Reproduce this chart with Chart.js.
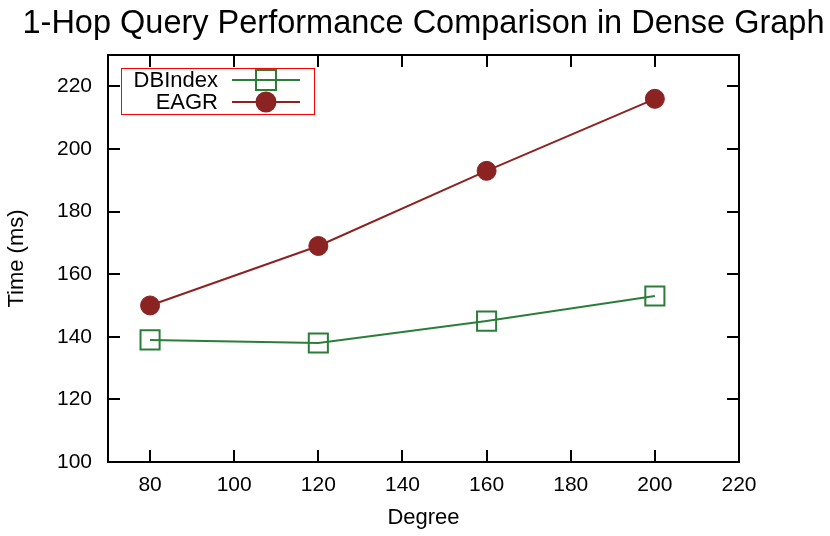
<!DOCTYPE html>
<html><head><meta charset="utf-8">
<script src="https://cdn.jsdelivr.net/npm/chart.js@4/dist/chart.umd.min.js"></script>
<style>html,body{margin:0;padding:0;background:#fff}#wrap{width:830px;height:536px;position:relative}</style>
</head><body><div id="wrap"><canvas id="c" width="830" height="536"></canvas></div>
<script>
const degrees = [80, 120, 160, 200];
const dbindexTimes = [139, 138, 145, 153];
const eagrTimes = [150, 169, 193, 216];
const xTickValues = [80, 100, 120, 140, 160, 180, 200, 220];
const yTickValues = [100, 120, 140, 160, 180, 200, 220];
const seriesNames = ['DBIndex', 'EAGR'];
const titleText = '1-Hop Query Performance Comparison in Dense Graph';
const xTitleText = 'Degree';
const yTitleText = 'Time (ms)';

const GREEN = '#2a7e38';
const RED = '#8b2323';
const FONT = '"Liberation Sans", Arial, Helvetica, sans-serif';

const framePlugin = {
  id: 'frame',
  beforeDatasetsDraw(chart) {
    const {ctx, chartArea: a, scales} = chart;
    ctx.save();
    ctx.strokeStyle = '#000';
    ctx.lineWidth = 2;
    const tl = 12;
    ctx.beginPath();
    scales.x.ticks.forEach(t => {
      const px = Math.round(scales.x.getPixelForValue(t.value));
      if (px > a.left + 1 && px < a.right - 1) {
        ctx.moveTo(px, a.bottom); ctx.lineTo(px, a.bottom - tl);
        ctx.moveTo(px, a.top); ctx.lineTo(px, a.top + tl);
      }
    });
    scales.y.ticks.forEach(t => {
      const py = Math.round(scales.y.getPixelForValue(t.value));
      if (py > a.top + 1 && py < a.bottom - 1) {
        ctx.moveTo(a.left, py); ctx.lineTo(a.left + tl, py);
        ctx.moveTo(a.right, py); ctx.lineTo(a.right - tl, py);
      }
    });
    ctx.stroke();
    ctx.strokeRect(a.left, a.top, a.right - a.left, a.bottom - a.top);
    ctx.restore();
  },
  afterDraw(chart) {
    const {ctx, chartArea: a} = chart;
    ctx.save();
    // title
    ctx.fillStyle = '#000';
    ctx.font = '32.5px ' + FONT;
    ctx.textAlign = 'center';
    ctx.textBaseline = 'alphabetic';
    ctx.fillText(titleText, (a.left + a.right) / 2, 33);
    // legend
    ctx.strokeStyle = '#ff0000';
    ctx.lineWidth = 1;
    ctx.strokeRect(121.5, 68.5, 193, 46);
    ctx.font = '22px ' + FONT;
    ctx.textAlign = 'right';
    ctx.textBaseline = 'middle';
    const rows = [80, 102];
    chart.data.datasets.forEach((ds, i) => {
      const y = rows[i];
      ctx.fillStyle = '#000';
      ctx.fillText(ds.label, 218, y + 1);
      ctx.strokeStyle = ds.borderColor;
      ctx.lineWidth = 2;
      ctx.beginPath(); ctx.moveTo(232, y); ctx.lineTo(300, y); ctx.stroke();
      if (ds.pointStyle === 'rect') {
        ctx.strokeRect(256, y - 10, 20, 20);
      } else {
        ctx.fillStyle = ds.pointBackgroundColor;
        ctx.beginPath(); ctx.arc(266, y, 10.5, 0, Math.PI * 2); ctx.fill();
      }
    });
    ctx.restore();
  }
};

new Chart(document.getElementById('c'), {
  type: 'line',
  data: {
    datasets: [
      {
        label: seriesNames[0],
        data: degrees.map((d, i) => ({x: d, y: dbindexTimes[i]})),
        borderColor: GREEN, borderWidth: 2,
        pointStyle: 'rect', pointRadius: 13.5, pointBorderWidth: 2,
        pointBorderColor: GREEN, pointBackgroundColor: 'rgba(0,0,0,0)',
        tension: 0, fill: false
      },
      {
        label: seriesNames[1],
        data: degrees.map((d, i) => ({x: d, y: eagrTimes[i]})),
        borderColor: RED, borderWidth: 2,
        pointStyle: 'circle', pointRadius: 9.5, pointBorderWidth: 1,
        pointBorderColor: RED, pointBackgroundColor: RED,
        tension: 0, fill: false
      }
    ]
  },
  options: {
    responsive: false, animation: false, devicePixelRatio: 1,
    layout: {padding: {left: 0, top: 55, right: 91, bottom: 0}},
    plugins: {legend: {display: false}, title: {display: false}, tooltip: {enabled: false}},
    scales: {
      x: {
        type: 'linear', position: 'bottom', min: 70, max: 220,
        grid: {display: false, drawTicks: false}, border: {display: false},
        afterBuildTicks: s => { s.ticks = xTickValues.map(v => ({value: v})); },
        afterFit: s => { s.height = 74; },
        ticks: {color: '#000', font: {family: FONT, size: 21}, padding: 11, maxRotation: 0, autoSkip: false},
        title: {display: true, text: xTitleText, color: '#000', font: {family: FONT, size: 22}, padding: {top: 0, bottom: 5}}
      },
      y: {
        type: 'linear', position: 'left', min: 100, max: 230,
        grid: {display: false, drawTicks: false}, border: {display: false},
        afterBuildTicks: s => { s.ticks = yTickValues.map(v => ({value: v})); },
        afterFit: s => { s.width = 108; },
        ticks: {color: '#000', font: {family: FONT, size: 21}, padding: 16, autoSkip: false},
        title: {display: true, text: yTitleText, color: '#000', font: {family: FONT, size: 22}, padding: {top: 4, bottom: 0}}
      }
    }
  },
  plugins: [framePlugin]
});
</script></body></html>
